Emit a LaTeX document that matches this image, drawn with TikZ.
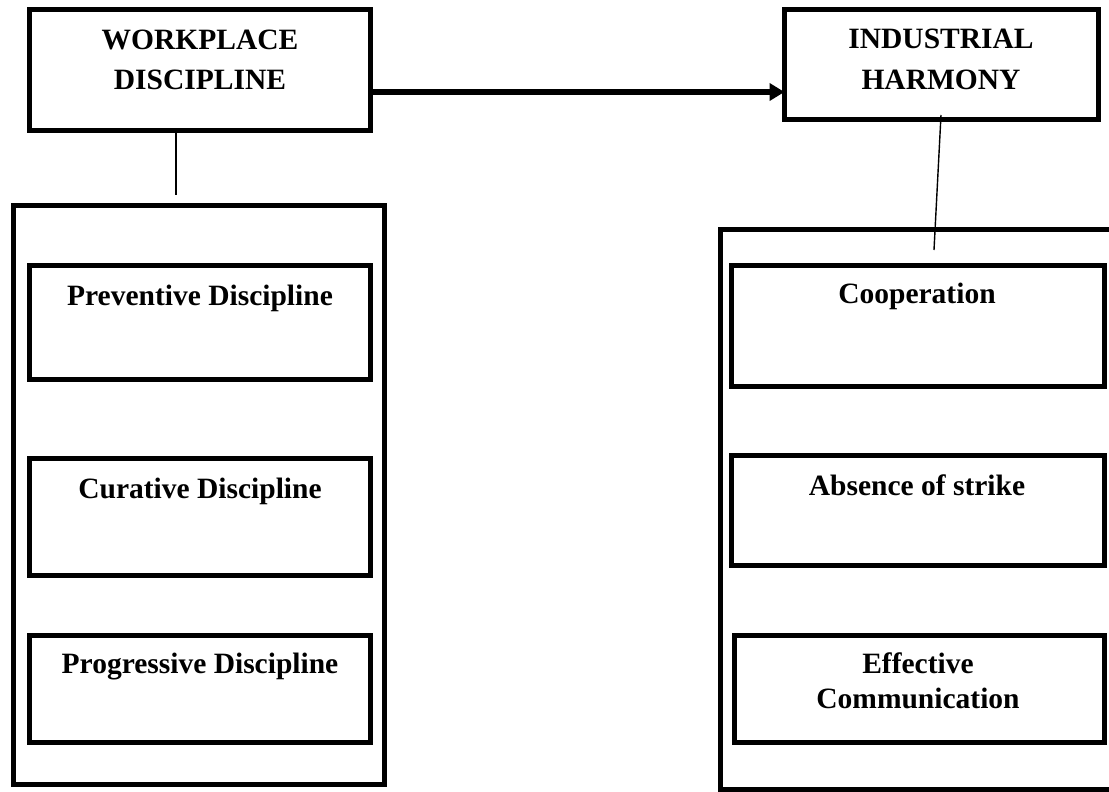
\documentclass[tikz,border=0pt]{standalone}
\usepackage{fontspec}
\setmainfont{Liberation Serif}
\usetikzlibrary{arrows.meta}
\begin{document}
\begin{tikzpicture}[x=1pt,y=-1pt,
  box/.style={draw=black,line width=5pt,inner sep=0pt,outer sep=0pt,anchor=north west,fill=none},
  lbl/.style={font=\fontsize{29.5}{40}\selectfont\bfseries,inner sep=0pt,anchor=base,align=center},
  lblb/.style={font=\fontsize{29.5}{35}\selectfont\bfseries,inner sep=0pt,anchor=base,align=center},
  conn/.style={draw=black,line width=2pt},
  thinconn/.style={draw=black,line width=1.4pt},
  bigarrow/.style={draw=black,line width=5.5pt,-{Triangle[length=15pt,width=17pt]}}]
\useasboundingbox (0,0) rectangle (1109,792);
\clip (0,0) rectangle (1109,792);
% top boxes
\node[box,minimum width=341pt,minimum height=121pt] (wd) at (29.5,9.5) {};
\node[box,minimum width=314pt,minimum height=110pt] (ih) at (784.5,9.5) {};
% multi-line labels: base anchor is the baseline of the last line
\node[lbl] (wdt) at (200,90) {WORKPLACE\\DISCIPLINE};
\node[lbl] (iht) at (941,89) {INDUSTRIAL\\HARMONY};
% containers
\node[box,minimum width=370.5pt,minimum height=579pt] (lc) at (13.5,205.5) {};
\node[box,minimum width=420pt,minimum height=560pt] (rc) at (720.5,229.5) {};
% left inner boxes
\node[box,minimum width=341pt,minimum height=114pt] (pd) at (29.5,265.5) {};
\node[box,minimum width=341pt,minimum height=117pt] (cd) at (29.5,458.5) {};
\node[box,minimum width=341pt,minimum height=107pt] (gd) at (29.5,635.5) {};
\node[lbl] (pdt) at (200,305) {Preventive Discipline};
\node[lbl] (cdt) at (200,498) {Curative Discipline};
\node[lbl] (gdt) at (200,673) {Progressive Discipline};
% right inner boxes
\node[box,minimum width=373pt,minimum height=121pt] (co) at (731.5,265.5) {};
\node[box,minimum width=373pt,minimum height=110pt] (ab) at (731.5,455.5) {};
\node[box,minimum width=370pt,minimum height=107pt] (ec) at (734.5,635.5) {};
\node[lbl] (cot) at (917,303) {Cooperation};
\node[lbl] (abt) at (917,495) {Absence of strike};
\node[lblb] (ect) at (918,708) {Effective\\Communication};
% connectors
\coordinate (ay) at (0,92);
\draw[bigarrow] (wd.east |- ay) -- (ih.west |- ay);
\coordinate (l1) at (176,133);
\coordinate (l2) at (176,195);
\draw[conn] (l1) -- (l2);
\coordinate (r1) at (941,115);
\coordinate (r2) at (934,250);
\draw[thinconn] (r1) -- (r2);
\end{tikzpicture}
\end{document}
